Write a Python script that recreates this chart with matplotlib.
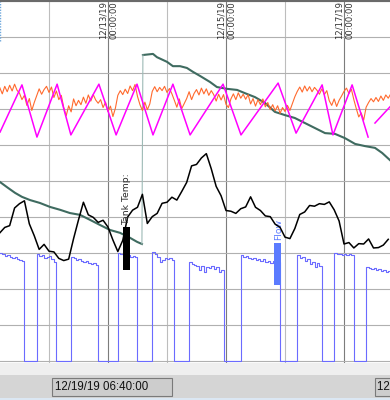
import numpy as np
import matplotlib
matplotlib.use('Agg')
import matplotlib.pyplot as plt
from matplotlib.patches import Rectangle

# time axis = hours since 12/12/19 00:00, values = % of trend span
date_ticks = [24, 72, 120]
date_labels = ['12/13/19\n00:00:00', '12/15/19\n00:00:00', '12/17/19\n00:00:00']
day_ticks = [-24, 0, 48, 96, 144]
cursor_left = '12/19/19 06:40:00'
cursor_right = '12/19/19 06:40:00'

# hourly samples, h = -20 .. 139
hours = np.arange(-20, 140)

orange = [75.9, 74.2, 76.3, 74.8, 76.6, 75.0, 76.9, 75.2, 74.4, 72.6,
          73.8, 71.0, 72.9, 69.6, 71.8, 73.7, 75.6, 74.1, 75.4, 76.3,
          74.6, 76.1, 73.2, 75.0, 72.6, 73.8, 70.4, 68.1, 70.9, 69.2,
          72.8, 70.9, 72.4, 71.2, 73.3, 71.6, 73.9, 72.2, 74.0, 72.5,
          71.6, 72.6, 70.4, 71.9, 69.3, 70.8, 67.9, 70.2, 73.8, 75.1,
          74.0, 75.5, 74.3, 76.4, 75.1, 76.8, 73.5, 71.2, 69.6, 71.9,
          69.8, 71.4, 74.9, 76.2, 74.8, 76.0, 75.1, 76.3, 74.6, 75.7,
          74.2, 72.4, 70.5, 72.8, 70.1, 71.5, 72.9, 74.8, 72.6, 74.3,
          75.4, 73.9, 75.8, 74.2, 75.6, 73.8, 75.1, 74.0, 72.2, 74.1,
          72.5, 74.0, 71.3, 70.4, 72.8, 74.2, 72.6, 74.5, 73.0, 74.1,
          72.7, 74.0, 71.4, 72.9, 70.8, 72.6, 71.2, 72.8, 70.6, 71.8,
          69.8, 71.2, 69.5, 70.9, 68.8, 70.4, 69.3, 71.0, 69.6, 71.5,
          73.4, 74.9, 76.1, 74.7, 76.4, 75.0, 76.2, 74.8, 76.0, 75.2,
          74.1, 75.6, 74.0, 75.1, 72.3, 71.0, 72.8, 70.7, 72.4, 73.6,
          74.9, 75.8, 74.3, 75.5, 72.6, 70.1, 67.8, 68.9, 66.9, 70.5,
          71.8, 72.9, 72.0, 73.2, 72.1, 73.6, 72.4, 73.9, 73.0, 74.2]

flow = [30.0, 29.7, 29.2, 29.4, 28.9, 28.6, 28.9, 28.3, 28.1, 27.8,
        0, 0, 0, 0, 0,
        29.7, 29.2, 29.4, 28.6, 28.9, 29.2, 28.3, 27.5,
        0, 0, 0, 0, 0, 0,
        28.9, 28.6, 28.1, 28.3, 27.8, 27.5, 27.8, 27.2, 26.9, 27.2, 26.7,
        0, 0, 0, 0, 0, 0, 0, 0,
        30.0, 29.7, 29.4, 29.2, 29.4, 28.9, 29.2, 28.9,
        0, 0, 0, 0, 0, 0,
        30.3, 29.7, 28.9, 27.5, 28.1, 28.6, 28.3, 28.6, 28.1,
        0, 0, 0, 0, 0, 0,
        27.5, 26.9, 26.7, 26.4, 25.3, 26.4, 24.7, 26.1, 25.8, 26.4, 25.6, 26.1, 24.7, 25.3,
        0, 0, 0, 0, 0, 0, 0,
        29.4, 28.9, 29.2, 28.6, 28.3, 28.6, 28.1, 28.3, 27.8, 28.3, 27.5, 27.8, 27.2, 27.8, 28.1, 27.5,
        0, 0, 0, 0, 0, 0, 0,
        29.4, 28.6, 28.9, 27.8, 28.3, 26.9, 27.5, 26.1, 27.2, 26.4,
        0, 0, 0, 0, 0,
        30.0, 29.7, 29.7, 29.4, 29.7, 29.4, 29.7, 29.4,
        0, 0, 0, 0, 0,
        26.1, 25.8, 25.6, 25.8, 25.3, 25.6, 25.0, 25.3, 24.7, 25.0, 24.7]

# 2-hourly samples, h = -20 .. 138
hours2 = np.arange(-20, 140, 2)
tank_temp = [35.6, 37.1, 37.6, 42.5, 43.7, 44.5, 38.1, 34.8, 31.0, 32.4,
             30.5, 30.3, 28.5, 27.9, 28.3, 34.0, 39.2, 44.1, 40.6, 39.9,
             38.5, 39.1, 37.2, 33.6, 30.4, 33.5, 40.0, 41.9, 42.7, 46.3,
             38.2, 40.1, 41.0, 43.8, 44.1, 45.5, 44.7, 47.1, 49.6, 54.2,
             54.6, 56.4, 57.6, 53.4, 48.5, 45.9, 41.8, 41.6, 41.0, 42.3,
             42.8, 45.6, 42.7, 41.8, 40.3, 40.1, 38.0, 37.1, 34.4, 34.0,
             36.8, 40.7, 41.4, 43.2, 43.0, 43.7, 43.5, 44.2, 42.0, 38.9,
             32.5, 32.9, 31.4, 32.6, 32.5, 33.9, 31.4, 31.5, 32.2, 33.8]

# slow series (irregular log times)
green_t = [-19.9, -16.7, -13.8, -11.0, -7.7, -3.7, 0.4, 4.5, 8.5, 12.6, 16.7, 20.7,
           24.8, 28.9, 33.0, 35.8, 37.8, 38.2, 42.3, 43.9, 48.0, 50.4, 53.3, 56.1,
           58.6, 61.4, 65.5, 68.3, 72.4, 76.5, 79.7, 83.8, 87.8, 91.9, 96.0, 100.0,
           104.1, 108.2, 112.3, 116.3, 120.4, 124.5, 128.5, 132.6, 135.5, 138.7]
green_v = [49.7, 48.1, 46.7, 45.6, 44.7, 43.9, 42.8, 42.0, 41.1, 40.6, 39.2, 37.8,
           36.4, 35.6, 34.2, 33.1, 32.5, 85.0, 85.3, 84.4, 83.1, 81.9, 81.9, 81.4,
           80.3, 79.2, 77.5, 76.1, 75.6, 75.3, 74.4, 73.3, 71.7, 69.2, 68.3, 67.5,
           66.1, 64.7, 63.3, 63.1, 61.9, 60.3, 59.7, 59.2, 57.8, 55.8]

# sawtooth series (turning points)
saw_t = [-19.9, -11.0, -4.9, 3.3, 8.9, 20.3, 27.3, 35.8, 42.3, 50.4, 57.4, 70.8,
         78.1, 93.2, 100.5, 111.1, 115.5, 123.3, 129.8, 131.0, 132.6, 138.7]
saw_v = [63.6, 76.7, 62.2, 76.9, 62.8, 76.9, 62.8, 76.9, 62.8, 76.9, 62.8, 76.9,
         62.8, 77.2, 63.3, 76.7, 62.8, 76.7, 62.2, np.nan, 66.1, 70.6]


fig = plt.figure(figsize=(3.9, 4.0), dpi=100)
fig.patch.set_facecolor('#efefef')
ax = fig.add_axes([0, 1 - 363/400., 1, 362/400.])
ax.set_facecolor('white')

# grid (ticks first, limits after so the ticks don't widen the view)
ax.set_xticks(date_ticks)
ax.set_xticks(day_ticks, minor=True)
ax.set_yticks(np.arange(0, 101, 10))
ax.set_xlim(-19.93, 138.71)
ax.set_ylim(-0.556, 100)
ax.grid(which='major', axis='x', color='#7c7c7c', lw=0.8, zorder=0)
ax.grid(which='minor', axis='x', color='#bdbdbd', lw=0.8, zorder=0)
ax.grid(which='major', axis='y', color='#b0b0b0', lw=0.8, zorder=0)
ax.tick_params(which='both', length=0, labelbottom=False, labelleft=False)
for s in ['left', 'right', 'bottom']:
    ax.spines[s].set_visible(False)
ax.spines['top'].set_color('#6a6a6a')
ax.spines['top'].set_linewidth(1.5)

# series
j = int(np.argmax(np.abs(np.diff(green_v))))
ax.plot(green_t[:j+1], green_v[:j+1], color='#3f6b60', lw=1.5, zorder=2)
ax.plot(green_t[j+1:], green_v[j+1:], color='#3f6b60', lw=1.5, zorder=2)
ax.plot(green_t[j:j+2], green_v[j:j+2], color='#9dbab6', lw=0.8, zorder=2)
ax.plot(hours, orange, color='#ff6a2e', lw=0.8, zorder=3)
ax.plot(saw_t, saw_v, color='#ff00ff', lw=1.1, zorder=4)
ax.plot(hours, flow, color='#6b6bff', lw=0.8, drawstyle='steps-post', zorder=4)
ax.plot(hours2, tank_temp, color='black', lw=1.1, zorder=5)

# pen markers / labels
ax.bar(31.55, 11.9, bottom=25.3, width=2.9, color='black', zorder=6)
ax.text(31.7, 37.8, 'Tank Temp:', rotation=90, ha='center', va='bottom',
        fontsize=6.7, color='#2a2a2a', zorder=6)
ax.bar(92.9, 11.7, bottom=21.1, width=2.9, color='#5b7bff', zorder=6)
ax.text(93.6, 33.6, 'Flow', rotation=90, ha='center', va='bottom',
        fontsize=6.7, color='#5b7bff', zorder=4)

for t, lab in zip(date_ticks, date_labels):
    ax.text(t + 0.3, 89.4, lab, rotation=90, ha='center', va='bottom',
            fontsize=6.1, color='#333333', linespacing=1.25)

ax.axvline(-19.75, ymin=0.89, ymax=1, color='#6fa8dc', ls=(0, (1, 1)), lw=1)

# status bar
fig.patches.append(Rectangle((0, 0.005), 1, 23/400., transform=fig.transFigure,
                             facecolor='#d5d5d5', edgecolor='none'))
fig.patches.append(Rectangle((0, 0), 1, 2/400., transform=fig.transFigure,
                             facecolor='#dbe7f3', edgecolor='none'))
fig.patches.append(Rectangle((52/390., 1 - 396/400.), 120/390., 18/400.,
                             transform=fig.transFigure, facecolor='#cdcdcd',
                             edgecolor='#7a7a7a', lw=0.8))
fig.patches.append(Rectangle((375/390., 1 - 396/400.), 30/390., 18/400.,
                             transform=fig.transFigure, facecolor='#cdcdcd',
                             edgecolor='#7a7a7a', lw=0.8))
fig.text(55/390., 1 - 387/400., cursor_left, ha='left', va='center',
         fontsize=8.3, family='Liberation Sans', color='#111111')
fig.text(377/390., 1 - 387/400., cursor_right, ha='left', va='center',
         fontsize=8.3, family='Liberation Sans', color='#111111')

plt.savefig('out.png', dpi=100, facecolor=fig.get_facecolor())
